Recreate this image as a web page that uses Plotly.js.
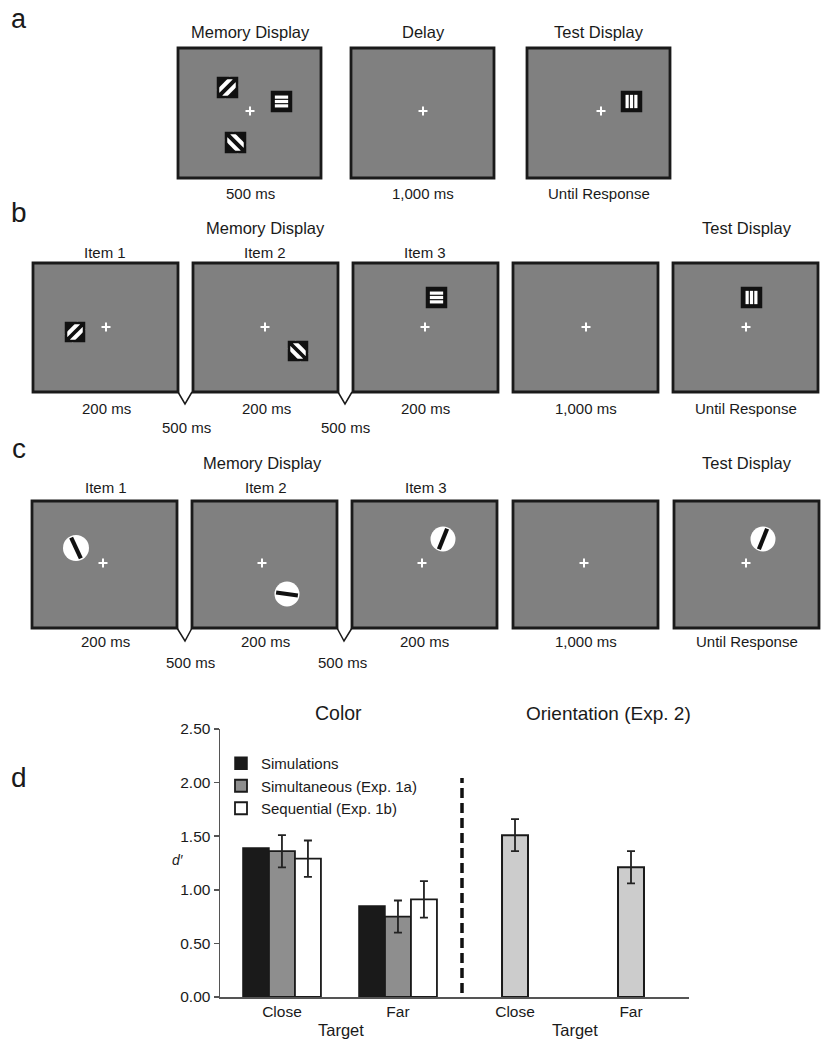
<!DOCTYPE html>
<html>
<head>
<meta charset="utf-8">
<script src="https://cdn.plot.ly/plotly-3.0.1.min.js"></script>
<style>html,body{margin:0;padding:0;background:#fff;}#chart{width:828px;height:1050px;}</style>
</head>
<body>
<div id="chart"></div>
<script>
// ---------- data (panel d) ----------
const categories = ['Close', 'Far'];
const seriesNames = ['Simulations', 'Simultaneous (Exp. 1a)', 'Sequential (Exp. 1b)'];
const simulations = [1.39, 0.85];
const simultaneous = [1.36, 0.75];
const simultaneousErr = [0.15, 0.15];
const sequential = [1.29, 0.91];
const sequentialErr = [0.17, 0.17];
const orientation = [1.51, 1.21];
const orientationErr = [0.15, 0.15];
const yTicks = [0, 0.5, 1, 1.5, 2, 2.5];
const yTickText = ['0.00', '0.50', '1.00', '1.50', '2.00', '2.50'];

// ---------- helpers (pixel -> paper) ----------
const W = 828, H = 1050;
const X = p => p / W, Y = p => 1 - p / H;
const FONT = 'Liberation Sans, Arial, sans-serif';
const TXT = '#1a1a1a';
const shapes = [], annotations = [];

function rect(x0, y0, x1, y1, fill, lc, lw) {
  shapes.push({type: 'rect', xref: 'paper', yref: 'paper', x0: X(x0), x1: X(x1), y0: Y(y1), y1: Y(y0),
    fillcolor: fill, line: {color: lc, width: lw}, layer: 'above'});
}
function seg(x0, y0, x1, y1, color, w, dash) {
  shapes.push({type: 'line', xref: 'paper', yref: 'paper', x0: X(x0), x1: X(x1), y0: Y(y0), y1: Y(y1),
    line: {color: color, width: w, dash: dash || 'solid'}, layer: 'above'});
}
function poly(pts, color, w) {
  const d = pts.map((p, i) => (i ? 'L' : 'M') + X(p[0]) + ',' + Y(p[1])).join(' ');
  shapes.push({type: 'path', xref: 'paper', yref: 'paper', path: d, line: {color: color, width: w}, layer: 'above'});
}
function circle(cx, cy, r, fill) {
  shapes.push({type: 'circle', xref: 'paper', yref: 'paper', x0: X(cx - r), x1: X(cx + r), y0: Y(cy + r), y1: Y(cy - r),
    fillcolor: fill, line: {color: fill, width: 0}, layer: 'above'});
}
function text(x, y, t, size, extra) {
  annotations.push(Object.assign({xref: 'paper', yref: 'paper', x: X(x), y: Y(y), text: t, showarrow: false,
    xanchor: 'center', yanchor: 'middle', font: {family: FONT, size: size, color: TXT}}, extra || {}));
}
function frame(x, y, w, h) { rect(x, y, x + w, y + h, '#808080', '#1a1a1a', 2.8); }
function cross(cx, cy) { seg(cx - 4.5, cy, cx + 4.5, cy, '#ffffff', 2); seg(cx, cy - 4.5, cx, cy + 4.5, '#ffffff', 2); }
function grating(x0, y0, s, orient) {
  rect(x0, y0, x0 + s, y0 + s, '#111111', '#111111', 0);
  if (orient === 'h' || orient === 'v') {
    [0.27, 0.5, 0.73].forEach(k => {
      if (orient === 'h') rect(x0 + 0.15 * s, y0 + k * s - 1.6, x0 + 0.85 * s, y0 + k * s + 1.6, '#ffffff', '#ffffff', 0);
      else rect(x0 + k * s - 1.6, y0 + 0.15 * s, x0 + k * s + 1.6, y0 + 0.85 * s, '#ffffff', '#ffffff', 0);
    });
  } else if (orient === 'd1') { // "/"
    [0.7, 1.3].forEach(k => {
      const c = k * s, u0 = Math.max(0, c - s), u1 = Math.min(s, c);
      seg(x0 + u0, y0 + (c - u0), x0 + u1, y0 + (c - u1), '#ffffff', 4);
    });
  } else { // "\"
    [-0.3, 0.3].forEach(k => {
      const c = k * s, u0 = Math.max(0, -c), u1 = Math.min(s, s - c);
      seg(x0 + u0, y0 + u0 + c, x0 + u1, y0 + u1 + c, '#ffffff', 4);
    });
  }
  rect(x0, y0, x0 + s, y0 + s, 'rgba(0,0,0,0)', '#111111', 2.5);
}
function gabor(cx, cy, r, angDeg) {
  circle(cx, cy, r, '#ffffff');
  const a = angDeg * Math.PI / 180, L = r * 0.88;
  seg(cx - L * Math.sin(a), cy + L * Math.cos(a), cx + L * Math.sin(a), cy - L * Math.cos(a), '#111111', 4.2);
}

// ---------- panel a ----------
text(19, 19, 'a', 27);
[[178, 'Memory Display', '500 ms'], [351, 'Delay', '1,000 ms'], [527, 'Test Display', 'Until Response']].forEach(f => {
  frame(f[0], 48, 143, 130);
  text(f[0] + 72, 32, f[1], 16.5);
  text(f[0] + 72, 193, f[2], 15);
});
cross(250, 111); cross(423, 111); cross(601, 111);
grating(218, 78, 19, 'd1');
grating(272, 92, 19, 'h');
grating(226, 133, 19, 'd2');
grating(622, 92, 19, 'v');

// ---------- panel b ----------
text(19, 212, 'b', 28);
const bL = [33, 193, 353, 513, 673];
bL.forEach(x => frame(x, 263, 145, 129));
text(265, 228, 'Memory Display', 16.5);
text(747, 228, 'Test Display', 16.5);
['Item 1', 'Item 2', 'Item 3'].forEach((t, i) => text(bL[i] + 72, 253, t, 15));
['200 ms', '200 ms', '200 ms', '1,000 ms', 'Until Response'].forEach((t, i) => text(bL[i] + 73, 408, t, 15));
text(186, 428, '500 ms', 15); text(345, 428, '500 ms', 15);
poly([[178, 392], [185, 404], [192, 392]], '#1a1a1a', 1.5);
poly([[338, 392], [345, 404], [352, 392]], '#1a1a1a', 1.5);
cross(106, 327); cross(265, 327); cross(425, 327); cross(586, 327); cross(746, 327);
grating(66, 323, 18, 'd1');
grating(289, 342, 18, 'd2');
grating(427, 288, 19, 'h');
grating(742, 288, 19, 'v');

// ---------- panel c ----------
text(19, 448, 'c', 28);
const cL = [32, 192, 352, 513, 674];
cL.forEach(x => frame(x, 501, 145, 127));
text(262, 463, 'Memory Display', 16.5);
text(747, 463, 'Test Display', 16.5);
['Item 1', 'Item 2', 'Item 3'].forEach((t, i) => text(cL[i] + 74, 488, t, 15));
['200 ms', '200 ms', '200 ms', '1,000 ms', 'Until Response'].forEach((t, i) => text(cL[i] + 73, 641, t, 15));
text(190, 662, '500 ms', 15); text(342, 662, '500 ms', 15);
poly([[177, 628], [185, 641], [192, 628]], '#1a1a1a', 1.5);
poly([[337, 628], [344, 641], [352, 628]], '#1a1a1a', 1.5);
cross(103, 563); cross(262, 563); cross(422, 563); cross(584, 563); cross(746, 563);
gabor(76, 548, 13, -25);
gabor(287, 594, 12.5, -82);
gabor(443, 539, 12.5, 22);
gabor(763, 539, 12.5, 22);

// ---------- panel d ----------
text(19, 777, 'd', 28);
text(338, 713, 'Color', 19.5);
text(608, 713, 'Orientation (Exp. 2)', 19);
text(341, 1030, 'Target', 16.5);
text(575, 1030, 'Target', 16.5);
text(178, 860, '<i>d′</i>', 14);
shapes.push({type: 'line', xref: 'paper', yref: 'paper', x0: X(462), x1: X(462), y0: Y(993), y1: Y(778),
  line: {color: '#111111', width: 3.5, dash: '10px,5px'}, layer: 'above'});

const lineC = '#1a1a1a';
const traces = [
  {type: 'bar', name: seriesNames[0], x: categories, y: simulations, xaxis: 'x', yaxis: 'y',
    marker: {color: '#1a1a1a', line: {color: '#1a1a1a', width: 1.5}}},
  {type: 'bar', name: seriesNames[1], x: categories, y: simultaneous, xaxis: 'x', yaxis: 'y',
    marker: {color: '#8e8e8e', line: {color: lineC, width: 1.8}},
    error_y: {type: 'data', array: simultaneousErr, visible: true, color: '#222', thickness: 1.8, width: 4}},
  {type: 'bar', name: seriesNames[2], x: categories, y: sequential, xaxis: 'x', yaxis: 'y',
    marker: {color: '#ffffff', line: {color: lineC, width: 1.8}},
    error_y: {type: 'data', array: sequentialErr, visible: true, color: '#222', thickness: 1.8, width: 4}},
  {type: 'bar', name: 'Orientation', showlegend: false, x: categories, y: orientation, xaxis: 'x2', yaxis: 'y',
    width: 0.224, marker: {color: '#cccccc', line: {color: lineC, width: 2}},
    error_y: {type: 'data', array: orientationErr, visible: true, color: '#222', thickness: 1.8, width: 4}}
];

const layout = {
  width: W, height: H,
  margin: {l: 0, r: 0, t: 0, b: 0},
  paper_bgcolor: '#ffffff', plot_bgcolor: 'rgba(0,0,0,0)',
  font: {family: FONT, color: TXT},
  showlegend: true,
  barmode: 'group', bargap: 0.328, bargroupgap: 0,
  legend: {x: X(221), y: Y(747), xanchor: 'left', yanchor: 'top', bgcolor: 'rgba(0,0,0,0)',
    font: {family: FONT, size: 15, color: TXT}, tracegroupgap: 0},
  xaxis: {domain: [X(220), X(462)], type: 'category', range: [-0.534, 1.552], anchor: 'y',
    showline: true, linecolor: '#555', linewidth: 1.5, ticks: '', showgrid: false, zeroline: false,
    tickfont: {family: FONT, size: 15.5, color: TXT}, fixedrange: true},
  xaxis2: {domain: [X(462), X(689)], type: 'category', range: [-0.457, 1.5], anchor: 'y',
    showline: true, linecolor: '#555', linewidth: 1.5, ticks: '', showgrid: false, zeroline: false,
    tickfont: {family: FONT, size: 15.5, color: TXT}, fixedrange: true},
  yaxis: {domain: [Y(997), Y(729)], range: [0, 2.5], anchor: 'x',
    tickvals: yTicks, ticktext: yTickText, ticks: 'outside', ticklen: 5, tickwidth: 1.5, tickcolor: '#555',
    showline: true, linecolor: '#555', linewidth: 1.5, showgrid: false, zeroline: false,
    tickfont: {family: FONT, size: 15.5, color: TXT}, fixedrange: true},
  shapes: shapes,
  annotations: annotations
};

Plotly.newPlot('chart', traces, layout, {displayModeBar: false, staticPlot: true});
</script>
</body>
</html>
